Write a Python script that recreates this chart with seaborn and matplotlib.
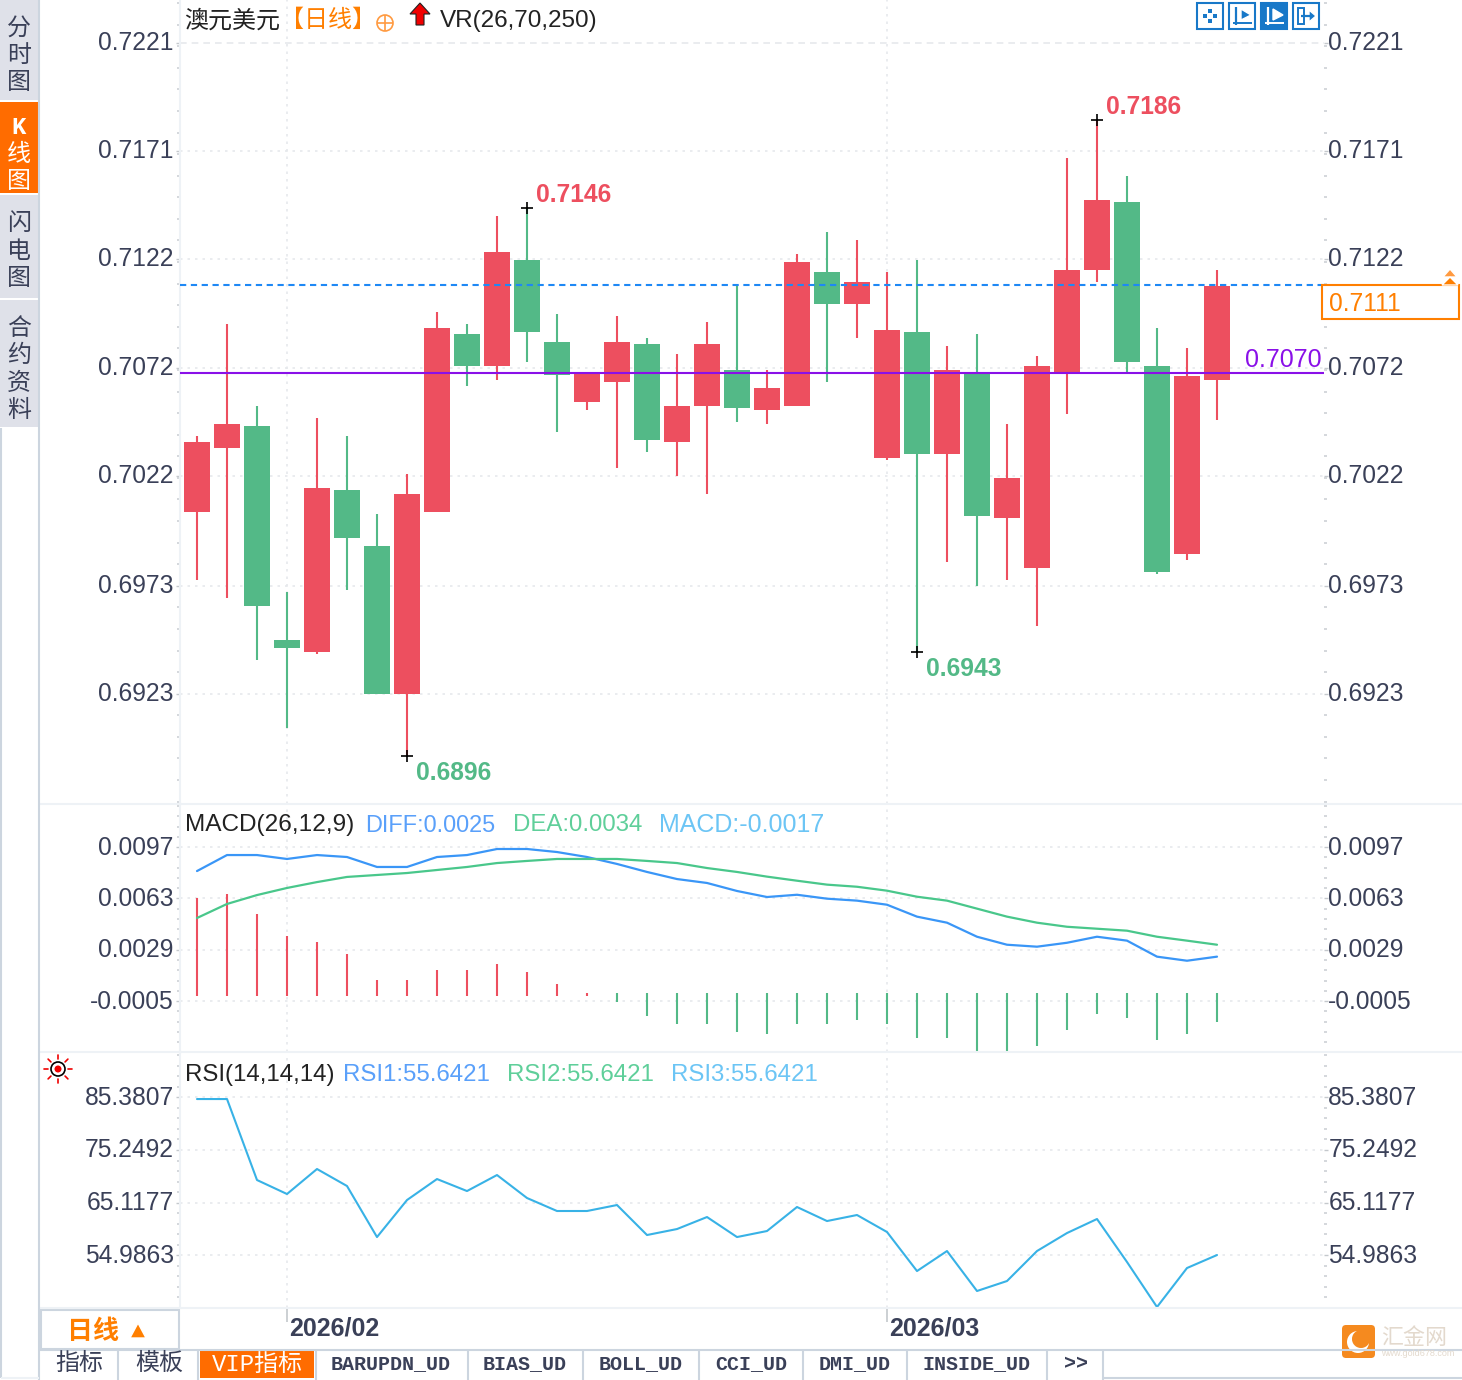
import matplotlib
matplotlib.use("Agg")
from matplotlib import pyplot as plt
from matplotlib.patches import Circle, FancyBboxPatch, Polygon, Rectangle, Wedge
from matplotlib.ticker import AutoMinorLocator, FixedLocator
from matplotlib.transforms import ScaledTranslation
import numpy as np
import seaborn as sns

# price candles
opens = [0.70072, 0.70364, 0.70464, 0.69489, 0.69434, 0.70173, 0.69917, 0.69242, 0.70072,
         0.70884, 0.70738, 0.71221, 0.70848, 0.70574, 0.70665, 0.70838, 0.70392, 0.70556,
         0.70720, 0.70537, 0.70556, 0.71167, 0.71021, 0.70319, 0.70893, 0.70337, 0.70711,
         0.70045, 0.69817, 0.70711, 0.71176, 0.71486, 0.70738, 0.69881, 0.70674]
closes = [0.70392, 0.70474, 0.69644, 0.69452, 0.70182, 0.69954, 0.69242, 0.70154, 0.70911,
          0.70738, 0.71258, 0.70893, 0.70697, 0.70702, 0.70848, 0.70401, 0.70556, 0.70838,
          0.70547, 0.70638, 0.71212, 0.71021, 0.71121, 0.70902, 0.70337, 0.70720, 0.70054,
          0.70227, 0.70738, 0.71176, 0.71495, 0.70756, 0.69799, 0.70692, 0.71103]
highs = [0.70419, 0.70930, 0.70556, 0.69707, 0.70501, 0.70419, 0.70063, 0.70246, 0.70984,
         0.70930, 0.71422, 0.71459, 0.70975, 0.70702, 0.70966, 0.70866, 0.70793, 0.70939,
         0.71107, 0.70720, 0.71249, 0.71349, 0.71313, 0.71167, 0.71221, 0.70829, 0.70884,
         0.70474, 0.70784, 0.71687, 0.71860, 0.71604, 0.70911, 0.70820, 0.71176]
lows = [0.69762, 0.69680, 0.69397, 0.69087, 0.69425, 0.69717, 0.69242, 0.68960, 0.70072,
        0.70647, 0.70674, 0.70756, 0.70437, 0.70537, 0.70273, 0.70346, 0.70236, 0.70154,
        0.70483, 0.70474, 0.70556, 0.70665, 0.70866, 0.70309, 0.69434, 0.69844, 0.69735,
        0.69762, 0.69552, 0.70519, 0.71121, 0.70711, 0.69790, 0.69853, 0.70492]
last_price = 0.71106
avg_price = 0.70706

price_ticks = [0.72212, 0.71720, 0.71227, 0.70730, 0.70238, 0.69736, 0.69244]
price_labels = ["0.7221", "0.7171", "0.7122", "0.7072", "0.7022", "0.6973", "0.6923"]

macd_bars = [0.00633, 0.00659, 0.00527, 0.00381, 0.00341, 0.00262, 0.00089, 0.00089, 0.00156,
             0.00156, 0.00195, 0.00142, 0.00063, 0.00002, -0.00056, -0.00149, -0.00202,
             -0.00202, -0.00255, -0.00268, -0.00202, -0.00202, -0.00176, -0.00202, -0.00295,
             -0.00295, -0.00387, -0.00387, -0.00348, -0.00242, -0.00136, -0.00162, -0.00308,
             -0.00268, -0.00189]
diff = [0.00811, 0.00917, 0.00917, 0.00891, 0.00917, 0.00904, 0.00838, 0.00838, 0.00904,
        0.00917, 0.00957, 0.00957, 0.00937, 0.00904, 0.00858, 0.00805, 0.00758, 0.00732,
        0.00679, 0.00639, 0.00654, 0.00628, 0.00615, 0.00588, 0.00509, 0.00469, 0.00376,
        0.00323, 0.00310, 0.00336, 0.00376, 0.00350, 0.00244, 0.00217, 0.00244]
dea = [0.00500, 0.00593, 0.00652, 0.00699, 0.00738, 0.00772, 0.00785, 0.00798, 0.00818,
       0.00838, 0.00864, 0.00878, 0.00891, 0.00891, 0.00891, 0.00878, 0.00864, 0.00831,
       0.00805, 0.00774, 0.00747, 0.00721, 0.00707, 0.00681, 0.00641, 0.00615, 0.00562,
       0.00509, 0.00469, 0.00442, 0.00429, 0.00416, 0.00376, 0.00350, 0.00323]
macd_ticks = [0.0097, 0.0063, 0.0029, -0.0005]
macd_labels = ["0.0097", "0.0063", "0.0029", "-0.0005"]

rsi = [85.05, 85.05, 69.47, 66.78, 71.59, 68.32, 58.50, 65.62, 69.66, 67.35, 70.43, 66.01,
       63.51, 63.51, 64.66, 58.89, 60.04, 62.35, 58.50, 59.66, 64.28, 61.58, 62.74, 59.47,
       51.96, 55.81, 48.12, 50.04, 55.81, 59.27, 61.97, 53.70, 45.04, 52.54, 55.04]
rsi_ticks = [85.3807, 75.2492, 65.1177, 54.9863]

date_pos = [3, 23]
date_labels = ["2026/02", "2026/03"]

RED = "#ed4f5f"
GREEN = "#53b987"
TEXT = "#3a4058"
GRID = "#e6e9ec"
LINE = "#eef2f6"
FRAME = "#ccd5df"
ORANGE = "#ff7f00"
W, H = 1462, 1380


def fs(px):
    return px * 0.72


def px_shift(dx, dy):
    return ScaledTranslation(dx / 100, dy / 100, fig.dpi_scale_trans)


def add_panel(top, bottom, ylim, ticks, labels):
    ax = fig.add_axes([180 / W, 1 - bottom / H, (1324 - 180) / W, (bottom - top) / H])
    ax.set_facecolor("none")
    ax.set_xlim((180 - 197) / 30, (1324 - 197) / 30)
    ax.set_ylim(*ylim)
    ax.yaxis.set_major_locator(FixedLocator(ticks))
    ax.yaxis.set_minor_locator(AutoMinorLocator(5))
    ax.set_yticklabels(labels)
    ax.set_xticks(date_pos)
    ax.set_xticklabels([])
    ax.tick_params(axis="x", length=0)
    ax.tick_params(axis="y", which="major", left=True, right=True, labelleft=True, labelright=True,
                   length=3, width=1, color="#c4c8cc", labelsize=fs(24.6), labelcolor=TEXT, pad=1.5)
    ax.tick_params(axis="y", which="minor", left=True, right=True, length=2, width=1.2,
                   color="#cdd1d5")
    for tick in ax.yaxis.get_major_ticks():
        tick.label1.set_transform(tick.label1.get_transform() + px_shift(0, 2))
        tick.label2.set_transform(tick.label2.get_transform() + px_shift(-2, 2))
    ax.grid(True, axis="both", which="major", color=GRID, lw=1.2, ls=(0, (1.5, 3)))
    ax.set_axisbelow(True)
    for side in ["top", "bottom", "right"]:
        ax.spines[side].set_visible(False)
    ax.spines["left"].set_color(LINE)
    ax.spines["left"].set_linewidth(1.5)
    return ax


sns.set_theme(style="white")
plt.rcParams["font.family"] = ["Liberation Sans", "Noto Sans CJK SC", "DejaVu Sans"]

fig = plt.figure(figsize=(14.62, 13.8), dpi=100, facecolor="white")
idx = np.arange(len(opens))

# candles
ax_k = add_panel(0, 804, (0.68741, 0.72407), price_ticks, price_labels)
ax_k.get_ygridlines()[0].set_linestyle((0, (4, 3)))
up = [c >= o for o, c in zip(opens, closes)]
colors = [RED if u else GREEN for u in up]
ax_k.vlines(idx, lows, highs, colors=colors, lw=1.5, zorder=2)
ax_k.bar(idx, np.abs(np.array(closes) - np.array(opens)), bottom=np.minimum(opens, closes),
         width=26 / 30, color=colors, linewidth=0, zorder=3)
ax_k.axhline(last_price, color="#1e88f5", lw=1.5, ls=(0, (3, 2.2)), zorder=4)
ax_k.axhline(avg_price, color="#8a10e8", lw=1.5, zorder=4)

for i, txt, col, off in [(30, "0.7186", RED, (9, 13)), (11, "0.7146", RED, (9, 13)),
                         (24, "0.6943", GREEN, (9, -17)), (7, "0.6896", GREEN, (9, -17))]:
    y = lows[i] if col == GREEN else highs[i]
    ax_k.plot(i, y, marker="+", color="black", ms=9, mew=1.2, zorder=5)
    ax_k.annotate(txt, (i, y), xytext=off, textcoords="offset pixels", color=col,
                  fontsize=fs(24.6), fontweight="bold", va="center", ha="left", zorder=5)
ax_k.annotate("0.7070", (1, avg_price), xycoords=("axes fraction", "data"), xytext=(-2, 13),
              textcoords="offset pixels", color="#8a10e8", fontsize=fs(25), va="center", ha="right")

# macd
ax_m = add_panel(804, 1052, (-0.003875, 0.012551), macd_ticks, macd_labels)
bar_colors = [RED if v > 0 else GREEN for v in macd_bars]
bar_base = [-0.00015 if v > 0 else 0 for v in macd_bars]
ax_m.vlines(idx, bar_base, macd_bars, colors=bar_colors, lw=1.5, zorder=2)
sns.lineplot(x=idx, y=diff, ax=ax_m, color="#3a96f7", lw=1.6, errorbar=None, zorder=3)
sns.lineplot(x=idx, y=dea, ax=ax_m, color="#49c78b", lw=1.6, errorbar=None, zorder=3)

# rsi
ax_r = add_panel(1052, 1308, (44.85, 94.10), rsi_ticks, [f"{t:.4f}" for t in rsi_ticks])
sns.lineplot(x=idx, y=rsi, ax=ax_r, color="#38b2e6", lw=1.5, errorbar=None, zorder=3)
ax_r.set_xticklabels(date_labels, fontsize=fs(25), fontweight="bold", color=TEXT, ha="left")
ax_r.tick_params(axis="x", bottom=True, length=10, width=1.2, color="#c4c8cc", pad=-4, direction="out")
for lbl in ax_r.get_xticklabels():
    lbl.set_transform(lbl.get_transform() + px_shift(2, 0))

# window furniture, drawn in pixel coordinates
ov = fig.add_axes([0, 0, 1, 1], zorder=10)
ov.set_xlim(0, W)
ov.set_ylim(H, 0)
ov.axis("off")


def box(x0, y0, x1, y1, fc="none", ec="none", lw=1.0):
    ov.add_patch(Rectangle((x0, y0), x1 - x0, y1 - y0, fc=fc, ec=ec, lw=lw))


def hline(y, x0, x1, color=LINE, lw=1.5):
    ov.plot([x0, x1], [y, y], color=color, lw=lw, solid_capstyle="butt")


def vline(x, y0, y1, color=FRAME, lw=1.5):
    ov.plot([x, x], [y0, y1], color=color, lw=lw, solid_capstyle="butt")


def label(x, y, s, color=TEXT, size=24, ha="left", **kw):
    ov.text(x, y + 2, s, color=color, fontsize=fs(size), ha=ha, va="center", **kw)


# panel separators
for y in [804, 1052, 1308]:
    hline(y, 40, W)
vline(39, 0, 1380)
vline(1, 428, 1378)
hline(1378, 1, 39)

# side buttons
for y0, y1, fc in [(0, 100, "#dfe1e9"), (102, 193, "#ff6c00"), (195, 298, "#dfe1e9"),
                   (300, 427, "#dfe1e9")]:
    box(0, y0, 38, y1, fc=fc)
side_chars = [("分", 27), ("时", 54), ("图", 81), ("闪", 222), ("电", 250), ("图", 277),
              ("合", 327), ("约", 354), ("资", 382), ("料", 409)]
for ch, y in side_chars:
    label(19, y, ch, ha="center")
label(19, 125, "K", color="white", ha="center", family="Liberation Mono", fontweight="bold")
for ch, y in [("线", 153), ("图", 180)]:
    label(19, y, ch, color="white", ha="center")

# header of the candle panel
label(184, 19, "澳元美元", color="#222222")
label(280, 19, "【日线】", color=ORANGE)
ov.add_patch(Circle((385, 23), 8, fc="none", ec="#ff9a40", lw=1.2))
hline(23, 377, 393, color="#ff9a40", lw=1.2)
vline(385, 15, 31, color="#ff9a40", lw=1.2)
ov.add_patch(Polygon([(420, 3), (430, 14), (424, 14), (424, 25), (416, 25), (416, 14), (410, 14)],
                     fc="#f00000", ec="#222222", lw=0.8))
label(440, 19, "VR(26,70,250)", color="#222222", size=24.3)

# toolbar
for i, x0 in enumerate([1197, 1229, 1261, 1293]):
    filled = i == 2
    box(x0, 3, x0 + 26, 29, fc="#1878c8" if filled else "white", ec="#1878c8", lw=1.5)
    mark = "white" if filled else "#1878c8"
    if i == 0:
        for dx, dy in [(13, 8), (13, 18), (8, 13), (18, 13)]:
            box(x0 + dx - 2, 3 + dy - 2, x0 + dx + 2, 3 + dy + 2, fc=mark)
    elif i == 3:
        box(x0 + 5, 8, x0 + 11, 24, ec=mark, lw=1.4)
        hline(16, x0 + 8, x0 + 17, color=mark, lw=1.6)
        ov.add_patch(Polygon([(x0 + 16, 10), (x0 + 23, 16), (x0 + 16, 22)], fc=mark))
    else:
        vline(x0 + 7, 7, 25, color=mark, lw=1.6)
        hline(23, x0 + 4, x0 + 23, color=mark, lw=1.4)
        ov.add_patch(Polygon([(x0 + 12, 9), (x0 + 22, 15), (x0 + 12, 20)], fc=mark))

# last price box
box(1322, 285, 1459, 319, fc="white", ec=ORANGE, lw=1.5)
label(1329, 302, "0.7111", color=ORANGE, size=24.6)
ov.add_patch(Polygon([(1443, 277), (1450, 269), (1457, 277)], fc="#ff9a40"))
ov.add_patch(Polygon([(1442, 285), (1450, 277), (1458, 285)], fc=ORANGE))

# macd and rsi headers
label(185, 823, "MACD(26,12,9)", color="#222222", size=24.4)
label(365, 823, "DIFF:0.0025", color="#5aa0fa", size=23.5)
label(513, 823, "DEA:0.0034", color="#5fcf9a")
label(659, 823, "MACD:-0.0017", color="#6cc5f5", size=25)
label(185, 1073, "RSI(14,14,14)", color="#222222")
label(343, 1073, "RSI1:55.6421", color="#5aa0fa")
label(507, 1073, "RSI2:55.6421", color="#5fcf9a")
label(671, 1073, "RSI3:55.6421", color="#6cc5f5")

# sun icon
ov.add_patch(Circle((58, 1069), 7, fc="white", ec="black", lw=1.2))
ov.add_patch(Circle((58, 1069), 3.5, fc="#f00000", ec="none"))
for a in np.deg2rad(np.arange(0, 360, 45)):
    ov.plot([58 + 10 * np.cos(a), 58 + 14 * np.cos(a)], [1069 + 10 * np.sin(a), 1069 + 14 * np.sin(a)],
            color="#f00000", lw=1.2)

# period selector
box(41, 1310, 179, 1349, fc="white", ec=FRAME, lw=1.5)
label(67, 1330, "日线", color=ORANGE, size=26, fontweight="bold")
ov.add_patch(Polygon([(130, 1338), (138, 1323), (146, 1338)], fc=ORANGE))

# tabs
hline(1350, 40, W, color=FRAME)
hline(1378, 1103, W, color=FRAME)
box(200, 1349, 314, 1378, fc="#ff6c00")
for x in [118, 198, 316, 468, 583, 699, 803, 907, 1047, 1103]:
    vline(x, 1350, 1380)
label(79, 1362, "指标", ha="center")
label(159, 1362, "模板", ha="center")
label(257, 1362, "VIP指标", color="white", ha="center", family=["Liberation Mono", "Noto Sans CJK SC"])
for x, s in [(391, "BARUPDN_UD"), (525, "BIAS_UD"), (641, "BOLL_UD"), (751, "CCI_UD"),
             (855, "DMI_UD"), (977, "INSIDE_UD"), (1076, ">>")]:
    label(x, 1362, s, size=20, ha="center", family="Liberation Mono", fontweight="bold")

# watermark
ov.add_patch(FancyBboxPatch((1345, 1328), 27, 27, boxstyle="round,pad=3,rounding_size=4",
                            fc="#f58a1f", ec="none"))
ov.add_patch(Circle((1358, 1342), 11, fc="white", ec="none"))
ov.add_patch(Wedge((1361, 1339), 9, 0, 360, fc="#f58a1f", ec="none"))
label(1381, 1336, "汇金网", color="#e3d9cd", size=22)
label(1381, 1352, "www.gold678.com", color="#e3d9cd", size=9)

fig.savefig("out.png", dpi=100, facecolor="white")
